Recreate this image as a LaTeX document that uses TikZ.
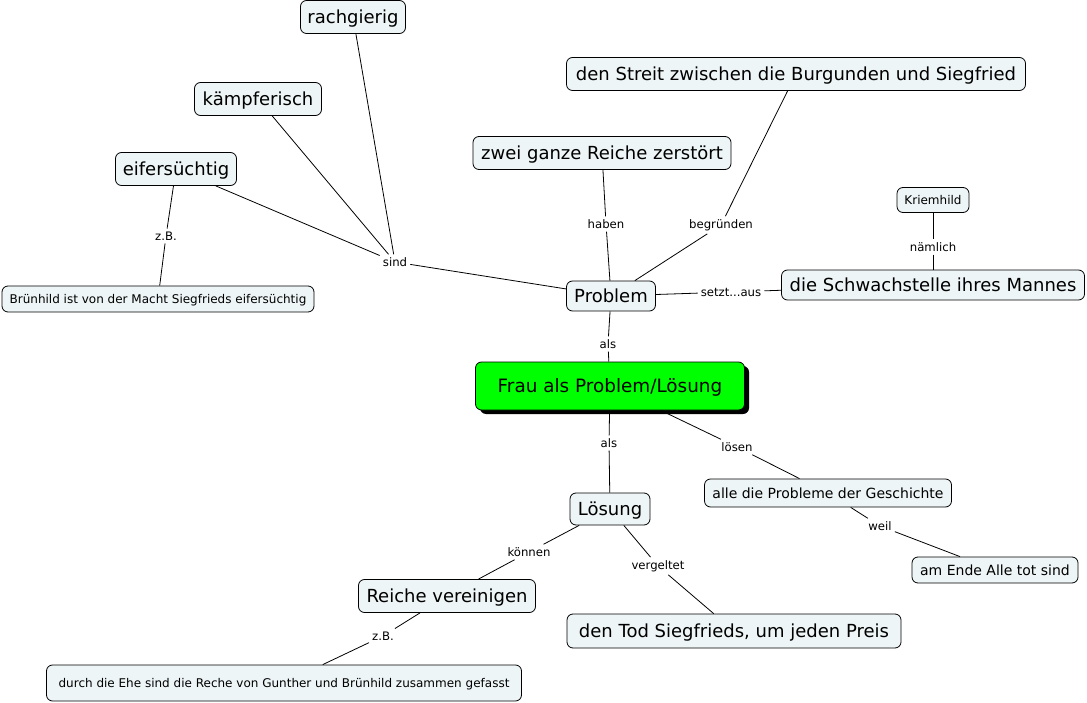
\documentclass[tikz,border=0pt]{standalone}
\usepackage{fontspec}
\setmainfont{DejaVu Sans}
\definecolor{boxfill}{RGB}{238,245,246}
\definecolor{maingreen}{RGB}{0,255,0}
\begin{document}
\begin{tikzpicture}[x=1pt,y=-1pt,
  concept/.style={draw=black,line width=0.8pt,fill=boxfill,rounded corners=6pt,inner sep=0pt},
  big/.style={concept,font=\fontsize{18}{21}\selectfont,text height=17pt,text depth=4pt},
  mid/.style={concept,font=\fontsize{14}{16}\selectfont,text height=13.2pt,text depth=3.1pt},
  small/.style={concept,font=\fontsize{12}{14}\selectfont,text height=11.3pt,text depth=2.7pt},
  lbl/.style={font=\fontsize{11.7}{13}\selectfont,inner sep=3pt},
  link/.style={line width=0.8pt,black}]
\useasboundingbox (0,0) rectangle (1087,703);
% concepts
\node[big,minimum width=105pt,minimum height=33pt] (rach) at (353,17) {rachgierig};
\node[big,minimum width=127pt,minimum height=33pt] (kampf) at (258,99) {kämpferisch};
\node[big,minimum width=121pt,minimum height=33pt] (eifer) at (176,169) {eifersüchtig};
\node[small,minimum width=312pt,minimum height=26pt] (brun) at (158,299) {Brünhild ist von der Macht Siegfrieds eifersüchtig};
\node[big,minimum width=459pt,minimum height=33pt] (streit) at (796,74) {den Streit zwischen die Burgunden und Siegfried};
\node[big,minimum width=258pt,minimum height=33pt] (zwei) at (602,153) {zwei ganze Reiche zerstört};
\node[small,minimum width=72pt,minimum height=25pt] (kriem) at (933,200) {Kriemhild};
\node[big,minimum width=303pt,minimum height=30pt] (schwach) at (933,285) {die Schwachstelle ihres Mannes};
\node[big,minimum width=89pt,minimum height=30pt] (prob) at (611,296) {Problem};
\fill[black,rounded corners=6pt] (480,366) rectangle (749,414);
\node[concept,fill=maingreen,font=\fontsize{18.4}{21}\selectfont,text height=17.4pt,text depth=4.1pt,minimum width=269pt,minimum height=48pt] (frau) at (610,386) {Frau als Problem/Lösung};
\node[big,minimum width=80pt,minimum height=32pt] (losung) at (610,509) {Lösung};
\node[mid,minimum width=247pt,minimum height=28pt] (alle) at (828,493) {alle die Probleme der Geschichte};
\node[mid,minimum width=166pt,minimum height=26pt] (ende) at (995,570) {am Ende Alle tot sind};
\node[big,minimum width=177pt,minimum height=33pt] (reiche) at (447,596) {Reiche vereinigen};
\node[big,minimum width=334pt,minimum height=34pt] (tod) at (734,631) {den Tod Siegfrieds, um jeden Preis};
\node[small,minimum width=475pt,minimum height=36pt] (ehe) at (284,683) {durch die Ehe sind die Reche von Gunther und Brünhild zusammen gefasst};
% link labels
\node[lbl] (sind) at (395,262) {sind};
\node[lbl] (zb1) at (166,236) {z.B.};
\node[lbl] (haben) at (606,224) {haben};
\node[lbl] (begr) at (721,225) {begründen};
\node[lbl] (naml) at (933,247) {nämlich};
\node[lbl] (setzt) at (731,292) {setzt...aus};
\node[lbl] (als1) at (608,344) {als};
\node[lbl] (als2) at (609,443) {als};
\node[lbl] (losen) at (737,447) {lösen};
\node[lbl] (weil) at (880,526) {weil};
\node[lbl] (konnen) at (529,552) {können};
\node[lbl] (verg) at (658,566) {vergeltet};
\node[lbl] (zb2) at (383,636) {z.B.};
% connectors
\draw[link] (rach) -- (sind);
\draw[link] (kampf) -- (sind);
\draw[link] (eifer) -- (sind);
\draw[link] (sind) -- (prob);
\draw[link] (eifer) -- (zb1) -- (brun);
\draw[link] (zwei) -- (haben) -- (prob);
\draw[link] (streit) -- (begr) -- (prob);
\draw[link] (kriem) -- (naml) -- (schwach);
\draw[link] (prob) -- (setzt) -- (schwach);
\draw[link] (prob) -- (als1) -- (frau);
\draw[link] (frau) -- (als2) -- (losung);
\draw[link] (frau) -- (losen) -- (alle);
\draw[link] (alle) -- (weil) -- (ende);
\draw[link] (losung) -- (konnen) -- (reiche);
\draw[link] (losung) -- (verg) -- (tod);
\draw[link] (reiche) -- (zb2) -- (ehe);
\end{tikzpicture}
\end{document}
